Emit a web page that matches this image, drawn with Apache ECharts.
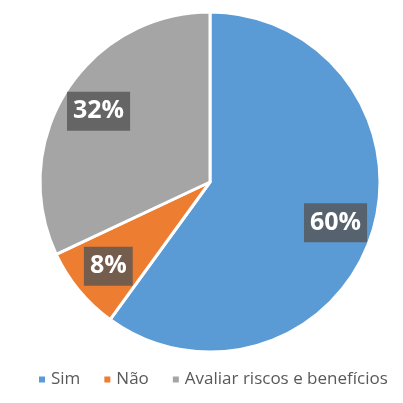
<!DOCTYPE html>
<html>
<head>
<meta charset="utf-8">
<script src="https://cdn.jsdelivr.net/npm/echarts@6/dist/echarts.min.js"></script>
<style>
  html, body { margin: 0; padding: 0; background: #fff; }
  #main { width: 403px; height: 403px; }
</style>
</head>
<body>
<div id="main"></div>
<script>
// dados do gráfico
const categorias = ['Sim', 'Não', 'Avaliar riscos e benefícios']
const valores = [60, 8, 32]
const cores = ['#5B9BD5', '#ED7D31', '#A5A5A5']

const dados = categorias.map((nome, i) => ({ name: nome, value: valores[i] }))

const myChart = echarts.init(document.getElementById('main'))
const option = {
  color: cores,
  legend: {
    data: categorias,
    bottom: 10,
    left: 32,
    icon: 'rect',
    itemWidth: 8,
    itemHeight: 8,
    itemGap: 22,
    textStyle: {
      fontFamily: 'Open Sans',
      fontSize: 17,
      color: '#595959'
    }
  },
  series: [
    {
      // fatias
      type: 'pie',
      center: [210, 182],
      radius: [0, 170],
      startAngle: 90,
      silent: true,
      itemStyle: { borderColor: '#fff', borderWidth: 3 },
      label: { show: false },
      labelLine: { show: false },
      data: dados
    },
    {
      // rótulos de percentagem
      type: 'pie',
      center: [210, 182],
      radius: [88, 170],
      startAngle: 90,
      silent: true,
      legendHoverLink: false,
      itemStyle: { color: 'rgba(0,0,0,0)' },
      label: {
        show: true,
        position: 'inside',
        formatter: '{c}%',
        fontFamily: 'Open Sans',
        fontWeight: 'bold',
        fontSize: 25,
        color: '#fff',
        backgroundColor: 'rgba(85,85,85,0.8)',
        padding: [8, 6, 6, 6]
      },
      labelLine: { show: false },
      data: dados.map(d => ({ name: d.name + ' ', value: d.value }))
    }
  ]
}
myChart.setOption(option)
</script>
</body>
</html>
